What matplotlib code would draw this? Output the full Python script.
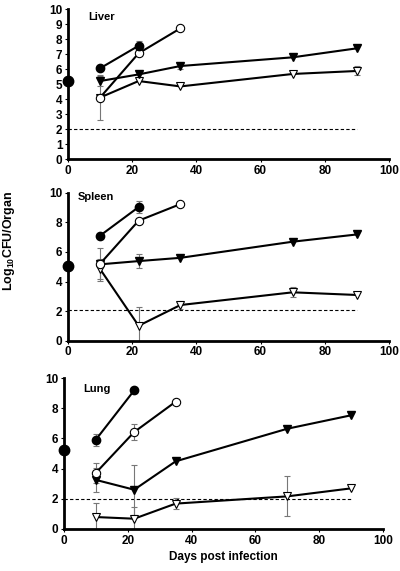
import matplotlib
matplotlib.use("Agg")
import matplotlib.pyplot as plt
import numpy as np

plt.rcParams['font.family'] = ['Liberation Sans', 'DejaVu Sans']
plt.rcParams['font.weight'] = 'bold'
plt.rcParams['mathtext.fontset'] = 'custom'
plt.rcParams['mathtext.rm'] = 'Liberation Sans:bold'
plt.rcParams['mathtext.it'] = 'Liberation Sans:bold'
plt.rcParams['mathtext.bf'] = 'Liberation Sans:bold'

organs = ["Liver", "Spleen", "Lung"]
day0 = [5.2, 5.07, 5.25]
detection_limit = [2.0, 2.1, 2.0]

# filled circles
fc_days = [10, 22]
fc_vals = {"Liver": [6.05, 7.55], "Spleen": [7.1, 9.03], "Lung": [5.92, 9.18]}
fc_err = {"Liver": [0.0, 0.3], "Spleen": [0.0, 0.4], "Lung": [0.4, 0.0]}
# open circles
oc_days = [10, 22, 35]
oc_vals = {"Liver": [4.1, 7.05, 8.71], "Spleen": [5.2, 8.11, 9.23], "Lung": [3.72, 6.42, 8.43]}
oc_err = {"Liver": [0.0, 0.0, 0.0], "Spleen": [0.0, 0.0, 0.0], "Lung": [0.65, 0.55, 0.15]}
# filled down triangles
ft_days = [10, 22, 35, 70, 90]
ft_vals = {"Liver": [5.2, 5.64, 6.2, 6.78, 7.38],
           "Spleen": [5.16, 5.38, 5.6, 6.69, 7.18],
           "Lung": [3.25, 2.6, 4.48, 6.64, 7.53]}
ft_err = {"Liver": [0.35, 0.2, 0.2, 0.0, 0.0],
          "Spleen": [1.1, 0.45, 0.0, 0.0, 0.0],
          "Lung": [0.8, 1.65, 0.0, 0.0, 0.0]}
# open down triangles
ot_days = [10, 22, 35, 70, 90]
ot_vals = {"Liver": [4.1, 5.2, 4.84, 5.67, 5.87],
           "Spleen": [4.84, 1.01, 2.41, 3.27, 3.09],
           "Lung": [0.79, 0.68, 1.68, 2.16, 2.69]}
ot_err = {"Liver": [1.5, 0.0, 0.0, 0.0, 0.3],
          "Spleen": [0.7, 1.3, 0.3, 0.35, 0.0],
          "Lung": [0.95, 0.75, 0.35, 1.32, 0.0]}

y_ticks = {"Liver": np.arange(0, 11, 1), "Spleen": np.arange(0, 11, 2), "Lung": np.arange(0, 11, 2)}
x_ticks = [0, 20, 40, 60, 80, 100]
label_pos = {"Liver": (6.2, 9.5), "Spleen": (3.1, 9.7), "Lung": (6.0, 9.3)}

fig = plt.figure(figsize=(4.0, 5.71), dpi=100)
positions = [[0.17, 0.7215, 0.8025, 0.2627],
             [0.17, 0.4033, 0.8025, 0.2592],
             [0.16, 0.0736, 0.7975, 0.2644]]

err_kw = dict(ecolor='#777777', elinewidth=0.8, capsize=2, capthick=0.8, zorder=1)
lw = 1.5

for i, org in enumerate(organs):
    ax = fig.add_axes(positions[i])
    ax.plot([0, 90], [detection_limit[i]] * 2, ls=(0, (3, 2)), color='black', lw=0.8, zorder=1)
    # error bars
    for days, vals, errs in [(fc_days, fc_vals, fc_err), (oc_days, oc_vals, oc_err),
                             (ft_days, ft_vals, ft_err), (ot_days, ot_vals, ot_err)]:
        e = np.array(errs[org])
        m = e > 0
        if m.any():
            ax.errorbar(np.array(days)[m], np.array(vals[org])[m], yerr=e[m], fmt='none', **err_kw)
    ax.plot(ot_days, ot_vals[org], color='black', lw=lw, marker='v', ms=6,
            mfc='white', mec='black', mew=0.8, zorder=3)
    ax.plot(ft_days, ft_vals[org], color='black', lw=lw, marker='v', ms=6,
            mfc='black', mec='black', zorder=3)
    ax.plot(oc_days, oc_vals[org], color='black', lw=lw, marker='o', ms=6,
            mfc='white', mec='black', mew=0.8, zorder=4)
    ax.plot(fc_days, fc_vals[org], color='black', lw=lw, marker='o', ms=6,
            mfc='black', mec='black', zorder=4)
    ax.plot([0], [day0[i]], marker='o', ms=7.5, color='black', ls='none', zorder=5, clip_on=False)

    ax.set_xlim(0, 100)
    ax.set_ylim(0, 10)
    ax.set_xticks(x_ticks)
    ax.set_yticks(y_ticks[org])
    for s in ['top', 'right']:
        ax.spines[s].set_visible(False)
    for s in ['left', 'bottom']:
        ax.spines[s].set_linewidth(2)
    ax.tick_params(axis='both', labelsize=8.5, length=2, width=0.8, pad=2)
    for lab in ax.get_xticklabels() + ax.get_yticklabels():
        lab.set_fontweight('bold')
    ax.text(label_pos[org][0], label_pos[org][1], org, fontsize=8, fontweight='bold',
            va='center', ha='left')
    if i == 2:
        ax.set_xlabel('Days post infection', fontsize=8.5, fontweight='bold', labelpad=3)

fig.text(0.022, 0.578, r'Log$_{10}$CFU/Organ', rotation=90, fontsize=9,
         fontweight='bold', va='center', ha='center')

fig.savefig('out.png', dpi=100)
